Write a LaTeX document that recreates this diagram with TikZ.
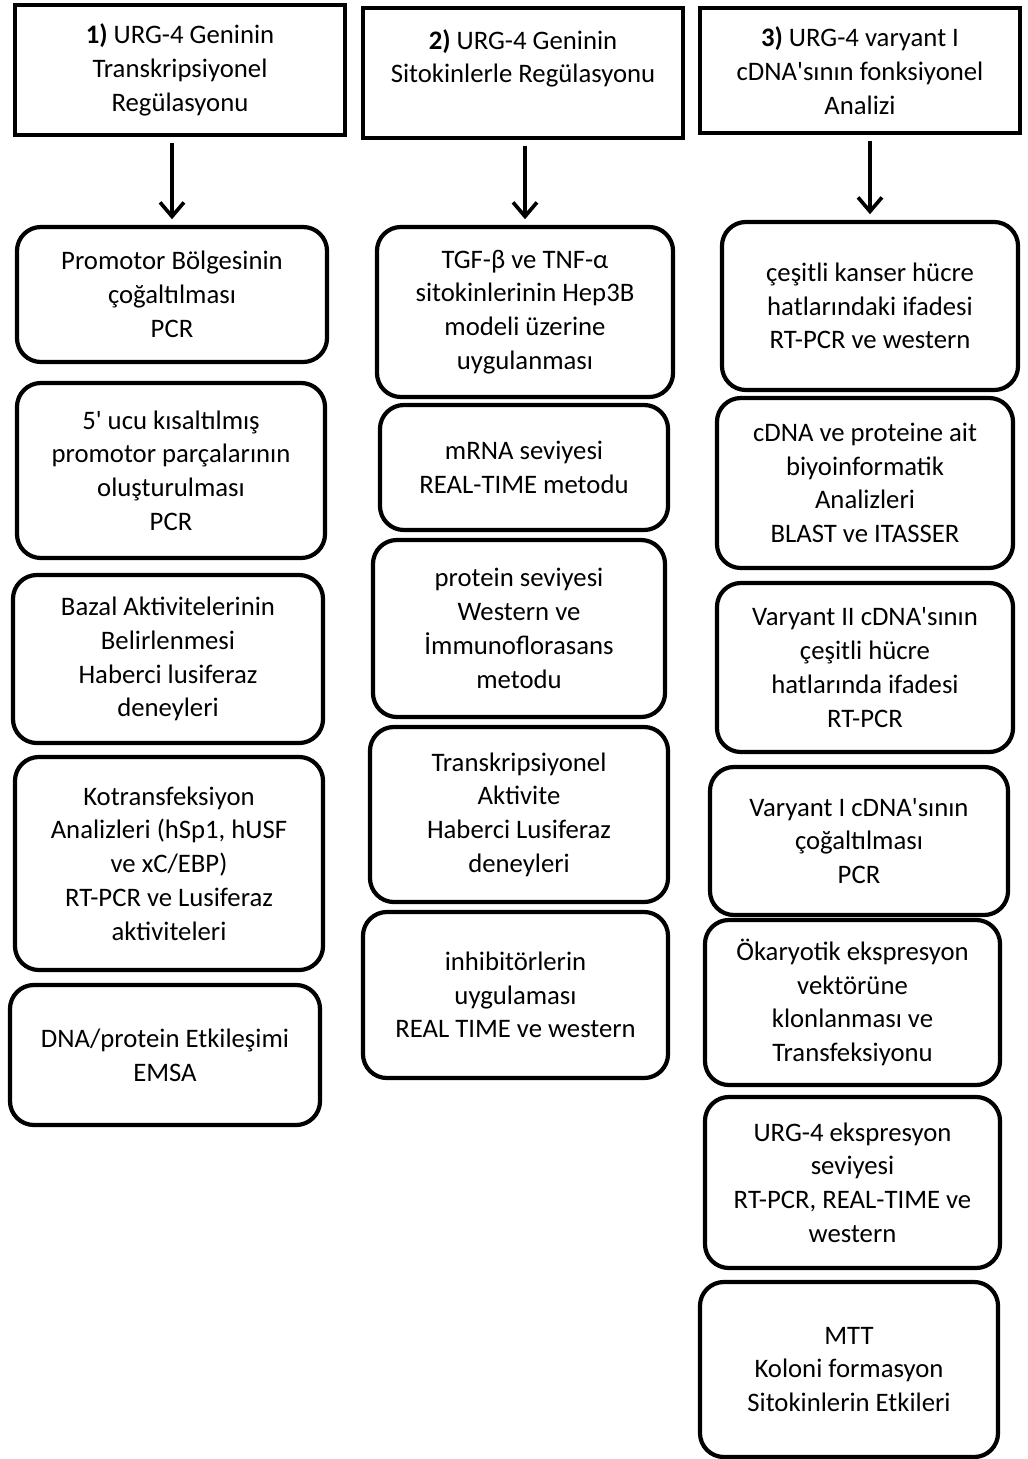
\documentclass[tikz,border=0pt]{standalone}
\usepackage{fontspec}
\setmainfont{Carlito}
\usetikzlibrary{
    arrows.meta,
    positioning
}

\begin{document}
\begin{tikzpicture}[x=0.025cm,y=-0.025cm,
    head/.style={draw,line width=2.8pt,align=center,inner sep=0pt,
        font=\fontsize{19}{24}\selectfont},
    block/.style={draw,line width=3pt,rounded corners=0.6cm,align=center,inner sep=0pt,
        font=\fontsize{19}{24}\selectfont},
    arr/.style={line width=2.6pt,-{Straight Barb[length=10pt,width=17pt,line width=2.6pt]},
        shorten <=4pt,shorten >=4pt}]
    \useasboundingbox (0,0) rectangle (1027,1459);

    % column 1
    \node[head,minimum width=8.25cm,minimum height=3.25cm] (h1) at (180,70)
        {\textbf{1)} URG-4 Geninin\\Transkripsiyonel\\Regülasyonu};
    \node[block,minimum width=7.75cm,minimum height=3.375cm] (p1) at (172,294.5)
        {Promotor Bölgesinin\\çoğaltılması\\PCR};
    \node[block,minimum width=7.7cm,minimum height=4.375cm] (p2) at (171,470.5)
        {5\textquotesingle{} ucu kısaltılmış\\promotor parçalarının\\oluşturulması\\PCR};
    \node[block,minimum width=7.75cm,minimum height=4.2cm] (p3) at (168,659)
        {Bazal Aktivitelerinin\\Belirlenmesi\\Haberci lusiferaz\\deneyleri};
    \node[block,minimum width=7.7cm,minimum height=5.325cm] (p4) at (169,863.5)
        {Kotransfeksiyon\\Analizleri (hSp1, hUSF\\ve xC/EBP)\\RT-PCR ve Lusiferaz\\aktiviteleri};
    \node[block,minimum width=7.75cm,minimum height=3.5cm] (p5) at (165,1055)
        {DNA/protein Etkileşimi\\EMSA};

    % column 2
    \node[head,minimum width=8cm,minimum height=3.25cm] (h2) at (523,73)
        {\textbf{2)} URG-4 Geninin\\Sitokinlerle Regülasyonu\\\mbox{}};
    \node[block,minimum width=7.4cm,minimum height=4.25cm] (s1) at (525,312)
        {TGF-β ve TNF-α\\sitokinlerinin Hep3B\\modeli üzerine\\uygulanması};
    \node[block,minimum width=7.2cm,minimum height=3.125cm] (s2) at (524,467.5)
        {mRNA seviyesi\\REAL-TIME metodu};
    \node[block,minimum width=7.3cm,minimum height=4.425cm] (s3) at (519,628.5)
        {protein seviyesi\\Western ve\\İmmunoflorasans\\metodu};
    \node[block,minimum width=7.45cm,minimum height=4.375cm] (s4) at (519,814.5)
        {Transkripsiyonel\\Aktivite\\Haberci Lusiferaz\\deneyleri};
    \node[block,minimum width=7.625cm,minimum height=4.15cm] (s5) at (515.5,995)
        {inhibitörlerin\\uygulaması\\REAL TIME ve western};

    % column 3
    \node[head,minimum width=8cm,minimum height=3.125cm] (h3) at (860,70.5)
        {\textbf{3)} URG-4 varyant I\\cDNA\textquotesingle{}sının fonksiyonel\\Analizi};
    \node[block,minimum width=7.4cm,minimum height=4.2cm] (v1) at (870,306)
        {çeşitli kanser hücre\\hatlarındaki ifadesi\\RT-PCR ve western};
    \node[block,minimum width=7.4cm,minimum height=4.25cm] (v2) at (865,483)
        {cDNA ve proteine ait\\biyoinformatik\\Analizleri\\BLAST ve ITASSER};
    \node[block,minimum width=7.4cm,minimum height=4.225cm] (v3) at (865,667.5)
        {Varyant II cDNA\textquotesingle{}sının\\çeşitli hücre\\hatlarında ifadesi\\RT-PCR};
    \node[block,minimum width=7.45cm,minimum height=3.7cm] (v4) at (859,841)
        {Varyant I cDNA\textquotesingle{}sının\\çoğaltılması\\PCR};
    \node[block,minimum width=7.375cm,minimum height=4.125cm] (v5) at (852.5,1002.5)
        {Ökaryotik ekspresyon\\vektörüne\\klonlanması ve\\Transfeksiyonu};
    \node[block,minimum width=7.375cm,minimum height=4.275cm] (v6) at (852.5,1182.5)
        {URG-4 ekspresyon\\seviyesi\\RT-PCR, REAL-TIME ve\\western};
    \node[block,minimum width=7.45cm,minimum height=4.375cm] (v7) at (849,1369.5)
        {MTT\\Koloni formasyon\\Sitokinlerin Etkileri};

    \draw[arr] (h1.south -| p1.north) -- (p1.north);
    \draw[arr] (h2.south -| s1.north) -- (s1.north);
    \draw[arr] (h3.south -| v1.north) -- (v1.north);
\end{tikzpicture}
\end{document}
